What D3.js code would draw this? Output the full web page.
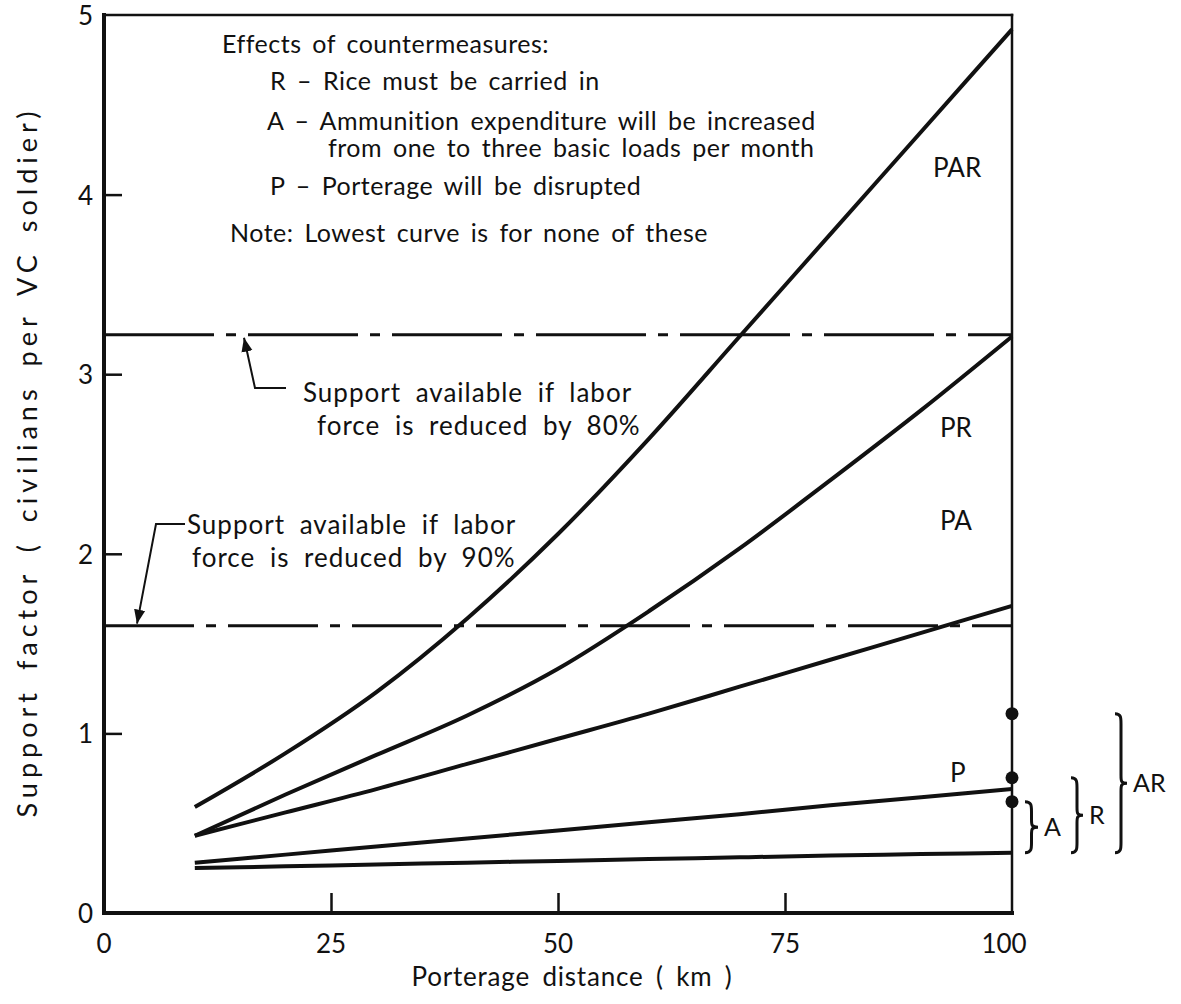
<!DOCTYPE html>
<html>
<head>
<meta charset="utf-8">
<script src="https://cdn.jsdelivr.net/npm/d3@7"></script>
<style>
  body { margin: 0; background: #fff; }
  text { font-family: Lato, "Noto Sans", sans-serif; fill: #111; }
</style>
</head>
<body>
<div id="chart"></div>
<script>
const distance = [10, 20, 30, 40, 50, 60, 70, 80, 90, 100];

// support factor per curve
const parValues  = [0.59, 0.89, 1.23, 1.64, 2.11, 2.64, 3.21, 3.78, 4.35, 4.92];
const prValues   = [0.43, 0.66, 0.88, 1.10, 1.36, 1.68, 2.03, 2.41, 2.80, 3.21];
const paValues   = [0.43, 0.56, 0.69, 0.83, 0.97, 1.11, 1.26, 1.41, 1.56, 1.71];
const pValues    = [0.28, 0.325, 0.37, 0.415, 0.46, 0.505, 0.55, 0.60, 0.645, 0.69];
const noneValues = [0.25, 0.26, 0.27, 0.28, 0.29, 0.30, 0.31, 0.32, 0.328, 0.336];

const curveNames = ['PAR', 'PR', 'PA', 'P', ''];

// reference levels of support available
const level80 = 3.22;
const level90 = 1.60;

// points at 100 km and the braces drawn from them
const dotValues = [1.11, 0.753, 0.62];
const braceNames = ['A', 'R', 'AR'];
const braceLow  = [0.336, 0.336, 0.336];
const braceHigh = [0.62, 0.753, 1.11];

const xTicks = [0, 25, 50, 75, 100];
const yTicks = [0, 1, 2, 3, 4, 5];

const width = 1181;
const height = 1004;
const margin = { top: 15, right: 169, bottom: 91, left: 104 };

const svg = d3.select('#chart')
  .append('svg')
  .attr('width', width)
  .attr('height', height);

const x = d3.scaleLinear()
  .domain([0, 100])
  .range([margin.left, width - margin.right]);

const y = d3.scaleLinear()
  .domain([0, 5])
  .range([height - margin.bottom, margin.top]);

// frame: heavier left and bottom sides
const frame = [
  [0, 0, 0, 5, 4], [0, 0, 100, 0, 4],
  [0, 5, 100, 5, 2.5], [100, 0, 100, 5, 2.5]
];
frame.forEach(([a, b, c, d, w]) => {
  svg.append('line')
    .attr('x1', x(a)).attr('y1', y(b))
    .attr('x2', x(c)).attr('y2', y(d))
    .attr('stroke', '#111')
    .attr('stroke-width', w)
    .attr('stroke-linecap', 'square');
});

// inward ticks
const xAxis = d3.axisTop(x).tickValues(xTicks.slice(1, -1)).tickSize(20).tickFormat('');
svg.append('g')
  .attr('transform', `translate(0, ${y(0)})`)
  .call(xAxis)
  .call(g => g.select('.domain').remove())
  .call(g => g.selectAll('line').attr('stroke', '#111').attr('stroke-width', 2.5));

const yAxis = d3.axisRight(y).tickValues(yTicks.slice(1, -1)).tickSize(18).tickFormat('');
svg.append('g')
  .attr('transform', `translate(${x(0)}, 0)`)
  .call(yAxis)
  .call(g => g.select('.domain').remove())
  .call(g => g.selectAll('line').attr('stroke', '#111').attr('stroke-width', 2.5));

// tick labels
svg.selectAll('.xlab')
  .data(xTicks)
  .enter()
  .append('text')
  .attr('x', d => x(d) - (d === 100 ? 8 : 0))
  .attr('y', y(0) + 40)
  .attr('text-anchor', 'middle')
  .style('font-size', '26px')
  .text(d => d);

svg.selectAll('.ylab')
  .data(yTicks)
  .enter()
  .append('text')
  .attr('x', x(0) - 11)
  .attr('y', d => y(d) + 10)
  .attr('text-anchor', 'end')
  .style('font-size', '26px')
  .text(d => d);

// axis titles
svg.append('text')
  .attr('x', 572)
  .attr('y', 986)
  .attr('text-anchor', 'middle')
  .style('font-size', '26px')
  .style('letter-spacing', '0.8px')
  .style('word-spacing', '5px')
  .text('Porterage distance ( km )');

svg.append('text')
  .attr('transform', `translate(37, 462) rotate(-90)`)
  .attr('text-anchor', 'middle')
  .style('font-size', '27px')
  .style('letter-spacing', '5px')
  .style('word-spacing', '6px')
  .text('Support factor ( civilians per VC soldier)');

// reference lines
[[level80, '110,12,10,12'], [level90, '90,12,10,12']].forEach(([v, dash]) => {
  svg.append('line')
    .attr('x1', x(0))
    .attr('x2', x(100))
    .attr('y1', y(v))
    .attr('y2', y(v))
    .attr('stroke', '#111')
    .attr('stroke-width', 3)
    .attr('stroke-dasharray', dash);
});

// curves
const line = d3.line()
  .x((d, i) => x(distance[i]))
  .y(d => y(d))
  .curve(d3.curveMonotoneX);

[parValues, prValues, paValues, pValues, noneValues].forEach(vals => {
  svg.append('path')
    .datum(vals)
    .attr('fill', 'none')
    .attr('stroke', '#111')
    .attr('stroke-width', 4)
    .attr('d', line);
});

// curve labels
const curveLabelPos = [[933, 177], [940, 437], [940, 530], [950, 782]];
curveNames.slice(0, 4).forEach((n, i) => {
  svg.append('text')
    .attr('x', curveLabelPos[i][0])
    .attr('y', curveLabelPos[i][1])
    .style('font-size', '26px')
    .text(n);
});

// dots at 100 km
svg.selectAll('.dot')
  .data(dotValues)
  .enter()
  .append('circle')
  .attr('cx', x(100))
  .attr('cy', d => y(d))
  .attr('r', 6.5)
  .attr('fill', '#111');

// braces
const braceX = [1025, 1071, 1115];
const braceW = [13, 12, 12];
function brace(x0, y0, y1, w) {
  const m = (y0 + y1) / 2;
  const q = w / 2;
  return `M${x0},${y0} C${x0 + q},${y0} ${x0 + q},${y0 + 4} ${x0 + q},${y0 + 10}` +
    ` L${x0 + q},${m - 8} C${x0 + q},${m - 2} ${x0 + q},${m} ${x0 + w},${m}` +
    ` C${x0 + q},${m} ${x0 + q},${m + 2} ${x0 + q},${m + 8}` +
    ` L${x0 + q},${y1 - 10} C${x0 + q},${y1 - 4} ${x0 + q},${y1} ${x0},${y1}`;
}
braceNames.forEach((n, i) => {
  const y0 = y(braceHigh[i]);
  const y1 = y(braceLow[i]);
  svg.append('path')
    .attr('d', brace(braceX[i], y0, y1, braceW[i]))
    .attr('fill', 'none')
    .attr('stroke', '#111')
    .attr('stroke-width', 3);
  svg.append('text')
    .attr('x', braceX[i] + braceW[i] + 6)
    .attr('y', (y0 + y1) / 2 + 9)
    .style('font-size', '25px')
    .text(n);
});

// legend text
const legend = [
  [222, 53, 'Effects of countermeasures:'],
  [270, 90, 'R  –  Rice must be carried in'],
  [267, 130, 'A  –  Ammunition expenditure will be increased'],
  [328, 157, 'from one to three basic loads per month'],
  [270, 195, 'P  –  Porterage will be disrupted'],
  [230, 242, 'Note: Lowest curve is for none of these']
];
legend.forEach(([lx, ly, t]) => {
  svg.append('text')
    .attr('x', lx)
    .attr('y', ly)
    .style('font-size', '25px')
    .style('letter-spacing', '0.5px')
    .style('word-spacing', '4px')
    .text(t);
});

// callouts
const callout = [
  [303, 402, 'Support available if labor'],
  [317, 435, 'force is reduced by 80%'],
  [187, 534, 'Support available if labor'],
  [192, 567, 'force is reduced by 90%']
];
callout.forEach(([lx, ly, t]) => {
  svg.append('text')
    .attr('x', lx)
    .attr('y', ly)
    .style('font-size', '26px')
    .style('letter-spacing', '1px')
    .style('word-spacing', '7px')
    .text(t);
});

svg.append('defs').append('marker')
  .attr('id', 'arrow')
  .attr('viewBox', '0 0 10 10')
  .attr('refX', 10)
  .attr('refY', 5)
  .attr('markerWidth', 7)
  .attr('markerHeight', 7)
  .attr('orient', 'auto')
  .append('path')
  .attr('d', 'M0,1 L10,5 L0,9 Z')
  .attr('fill', '#111');

svg.append('path')
  .attr('d', `M286,388 L255,388 L244,${y(level80) + 3}`)
  .attr('fill', 'none')
  .attr('stroke', '#111')
  .attr('stroke-width', 2)
  .attr('marker-end', 'url(#arrow)');

svg.append('path')
  .attr('d', `M185,524 L156,524 L137,${y(level90) - 2}`)
  .attr('fill', 'none')
  .attr('stroke', '#111')
  .attr('stroke-width', 2)
  .attr('marker-end', 'url(#arrow)');
</script>
</body>
</html>
